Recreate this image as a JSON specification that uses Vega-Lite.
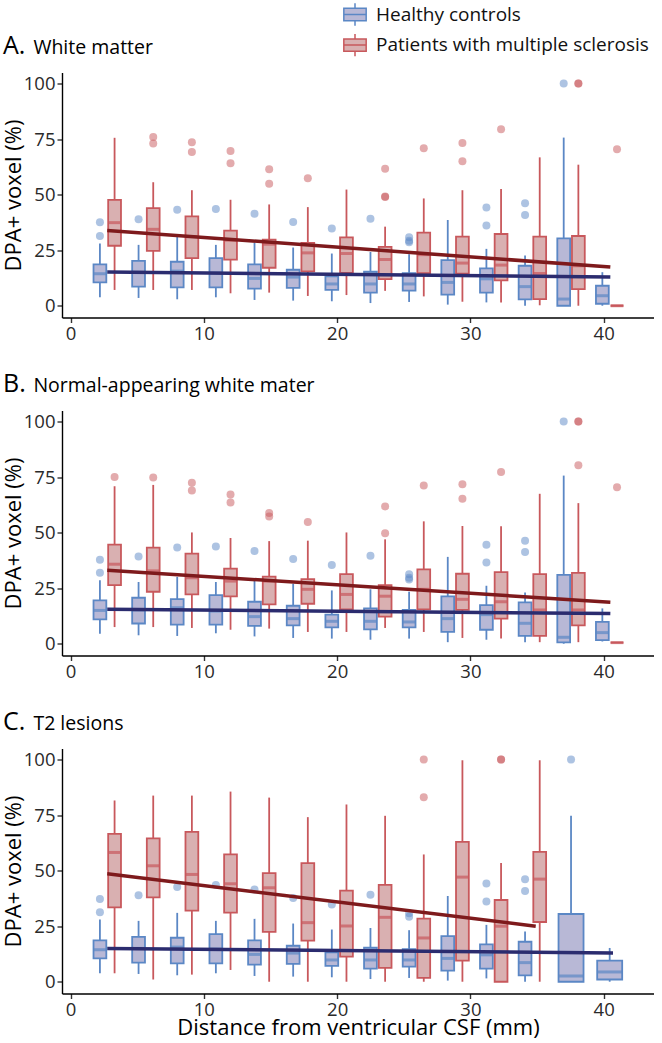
{
  "$schema": "https://vega.github.io/schema/vega-lite/v6.json",
  "padding": {"left": 2, "top": 2.5, "right": 0, "bottom": 6},
  "background": "white",
  "spacing": 93,
  "bounds": "flush",
  "config": {
    "font": "Open Sans",
    "view": {"stroke": null},
    "axis": {
      "grid": false,
      "domainColor": "#000",
      "domainWidth": 1.4,
      "tickColor": "#333",
      "tickWidth": 1.4,
      "tickSize": 5,
      "labelFont": "Open Sans",
      "labelFontSize": 18.5,
      "labelColor": "#2a2a2a",
      "labelPadding": 2,
      "titleFont": "Open Sans",
      "titleFontSize": 22,
      "titleFontWeight": "normal",
      "titleColor": "#000"
    },
    "axisX": {"titlePadding": -2},
    "axisY": {"titlePadding": -2},
    "title": {
      "anchor": "start",
      "frame": "group",
      "dx": -59,
      "offset": 14,
      "font": "Open Sans",
      "fontSize": 25,
      "fontWeight": "normal",
      "color": "#000",
      "subtitleFont": "Open Sans",
      "subtitleFontSize": 19.5,
      "subtitleColor": "#000",
      "subtitlePadding": -20
    }
  },
  "datasets": {
    "boxes": [
      {"panel":"A","group":"Healthy controls","bin":1,"dist":2.2,"lo":3.8,"q1":10.5,"med":14.4,"q3":18.6,"hi":28.0},
      {"panel":"A","group":"Healthy controls","bin":2,"dist":5.1,"lo":3.5,"q1":8.6,"med":15.0,"q3":20.2,"hi":27.4},
      {"panel":"A","group":"Healthy controls","bin":3,"dist":8.0,"lo":2.9,"q1":8.3,"med":15.6,"q3":19.8,"hi":31.0},
      {"panel":"A","group":"Healthy controls","bin":4,"dist":10.9,"lo":3.8,"q1":8.3,"med":14.7,"q3":21.4,"hi":27.4},
      {"panel":"A","group":"Healthy controls","bin":5,"dist":13.8,"lo":2.6,"q1":7.7,"med":12.3,"q3":18.6,"hi":28.3},
      {"panel":"A","group":"Healthy controls","bin":6,"dist":16.7,"lo":2.3,"q1":8.0,"med":12.9,"q3":16.2,"hi":26.2},
      {"panel":"A","group":"Healthy controls","bin":7,"dist":19.6,"lo":2.0,"q1":7.1,"med":9.8,"q3":13.2,"hi":23.5},
      {"panel":"A","group":"Healthy controls","bin":8,"dist":22.5,"lo":1.2,"q1":5.9,"med":9.8,"q3":15.3,"hi":24.2},
      {"panel":"A","group":"Healthy controls","bin":9,"dist":25.4,"lo":1.7,"q1":6.8,"med":9.8,"q3":14.7,"hi":23.2},
      {"panel":"A","group":"Healthy controls","bin":10,"dist":28.3,"lo":0.5,"q1":5.0,"med":10.5,"q3":20.5,"hi":38.6},
      {"panel":"A","group":"Healthy controls","bin":11,"dist":31.2,"lo":1.5,"q1":5.9,"med":12.1,"q3":16.8,"hi":25.6},
      {"panel":"A","group":"Healthy controls","bin":12,"dist":34.1,"lo":0.0,"q1":2.9,"med":8.6,"q3":18.0,"hi":22.6},
      {"panel":"A","group":"Healthy controls","bin":13,"dist":37.0,"lo":0.0,"q1":0.0,"med":3.0,"q3":30.3,"hi":75.7},
      {"panel":"A","group":"Healthy controls","bin":14,"dist":39.9,"lo":0.0,"q1":0.9,"med":4.5,"q3":9.0,"hi":15.1},
      {"panel":"A","group":"Patients with multiple sclerosis","bin":1,"dist":3.3,"lo":7.1,"q1":27.0,"med":37.4,"q3":47.7,"hi":75.6},
      {"panel":"A","group":"Patients with multiple sclerosis","bin":2,"dist":6.2,"lo":7.1,"q1":24.7,"med":34.4,"q3":43.9,"hi":55.6},
      {"panel":"A","group":"Patients with multiple sclerosis","bin":3,"dist":9.1,"lo":7.1,"q1":21.4,"med":31.1,"q3":40.2,"hi":52.0},
      {"panel":"A","group":"Patients with multiple sclerosis","bin":4,"dist":12.0,"lo":5.6,"q1":20.8,"med":29.5,"q3":33.8,"hi":47.7},
      {"panel":"A","group":"Patients with multiple sclerosis","bin":5,"dist":14.9,"lo":5.9,"q1":17.1,"med":27.7,"q3":29.8,"hi":45.6},
      {"panel":"A","group":"Patients with multiple sclerosis","bin":6,"dist":17.8,"lo":4.4,"q1":15.5,"med":23.8,"q3":28.3,"hi":44.4},
      {"panel":"A","group":"Patients with multiple sclerosis","bin":7,"dist":20.7,"lo":4.8,"q1":14.8,"med":23.5,"q3":30.8,"hi":52.3},
      {"panel":"A","group":"Patients with multiple sclerosis","bin":8,"dist":23.6,"lo":6.7,"q1":12.0,"med":20.8,"q3":26.5,"hi":35.6},
      {"panel":"A","group":"Patients with multiple sclerosis","bin":9,"dist":26.5,"lo":4.2,"q1":14.7,"med":23.0,"q3":32.9,"hi":48.3},
      {"panel":"A","group":"Patients with multiple sclerosis","bin":10,"dist":29.4,"lo":1.8,"q1":14.4,"med":19.2,"q3":31.1,"hi":52.0},
      {"panel":"A","group":"Patients with multiple sclerosis","bin":11,"dist":32.3,"lo":1.4,"q1":11.4,"med":18.3,"q3":32.3,"hi":52.6},
      {"panel":"A","group":"Patients with multiple sclerosis","bin":12,"dist":35.2,"lo":0.2,"q1":3.0,"med":14.5,"q3":31.1,"hi":66.8},
      {"panel":"A","group":"Patients with multiple sclerosis","bin":13,"dist":38.1,"lo":0.0,"q1":7.5,"med":18.0,"q3":31.4,"hi":63.5},
      {"panel":"A","group":"Patients with multiple sclerosis","bin":14,"dist":41.0,"lo":0.0,"q1":0.0,"med":0.0,"q3":0.0,"hi":0.0},

      {"panel":"B","group":"Healthy controls","bin":1,"dist":2.2,"lo":4.5,"q1":11.0,"med":15.0,"q3":19.5,"hi":28.6},
      {"panel":"B","group":"Healthy controls","bin":2,"dist":5.1,"lo":3.8,"q1":9.1,"med":15.2,"q3":20.7,"hi":27.8},
      {"panel":"B","group":"Healthy controls","bin":3,"dist":8.0,"lo":3.5,"q1":8.6,"med":16.2,"q3":20.1,"hi":30.1},
      {"panel":"B","group":"Healthy controls","bin":4,"dist":10.9,"lo":4.7,"q1":8.6,"med":14.7,"q3":21.9,"hi":27.8},
      {"panel":"B","group":"Healthy controls","bin":5,"dist":13.8,"lo":3.3,"q1":8.0,"med":12.2,"q3":18.9,"hi":29.0},
      {"panel":"B","group":"Healthy controls","bin":6,"dist":16.7,"lo":2.6,"q1":8.3,"med":11.3,"q3":17.1,"hi":27.0},
      {"panel":"B","group":"Healthy controls","bin":7,"dist":19.6,"lo":2.3,"q1":7.4,"med":10.1,"q3":13.1,"hi":24.0},
      {"panel":"B","group":"Healthy controls","bin":8,"dist":22.5,"lo":1.8,"q1":6.5,"med":10.1,"q3":15.9,"hi":24.5},
      {"panel":"B","group":"Healthy controls","bin":9,"dist":25.4,"lo":2.3,"q1":7.4,"med":9.8,"q3":15.2,"hi":23.4},
      {"panel":"B","group":"Healthy controls","bin":10,"dist":28.3,"lo":0.7,"q1":5.3,"med":11.3,"q3":21.3,"hi":39.1},
      {"panel":"B","group":"Healthy controls","bin":11,"dist":31.2,"lo":1.8,"q1":6.3,"med":13.1,"q3":17.4,"hi":26.1},
      {"panel":"B","group":"Healthy controls","bin":12,"dist":34.1,"lo":0.7,"q1":3.5,"med":9.2,"q3":18.6,"hi":23.1},
      {"panel":"B","group":"Healthy controls","bin":13,"dist":37.0,"lo":0.0,"q1":0.6,"med":2.9,"q3":31.0,"hi":75.7},
      {"panel":"B","group":"Healthy controls","bin":14,"dist":39.9,"lo":1.0,"q1":1.6,"med":5.0,"q3":9.8,"hi":15.9},
      {"panel":"B","group":"Patients with multiple sclerosis","bin":1,"dist":3.3,"lo":7.5,"q1":26.4,"med":35.8,"q3":44.6,"hi":70.9},
      {"panel":"B","group":"Patients with multiple sclerosis","bin":2,"dist":6.2,"lo":7.5,"q1":23.4,"med":32.8,"q3":43.3,"hi":71.5},
      {"panel":"B","group":"Patients with multiple sclerosis","bin":3,"dist":9.1,"lo":7.1,"q1":22.2,"med":29.7,"q3":40.6,"hi":50.1},
      {"panel":"B","group":"Patients with multiple sclerosis","bin":4,"dist":12.0,"lo":6.3,"q1":21.3,"med":28.2,"q3":33.8,"hi":47.6},
      {"panel":"B","group":"Patients with multiple sclerosis","bin":5,"dist":14.9,"lo":6.8,"q1":17.7,"med":28.2,"q3":30.2,"hi":46.2},
      {"panel":"B","group":"Patients with multiple sclerosis","bin":6,"dist":17.8,"lo":5.3,"q1":18.0,"med":24.5,"q3":29.1,"hi":46.4},
      {"panel":"B","group":"Patients with multiple sclerosis","bin":7,"dist":20.7,"lo":5.3,"q1":15.5,"med":22.2,"q3":31.3,"hi":50.1},
      {"panel":"B","group":"Patients with multiple sclerosis","bin":8,"dist":23.6,"lo":7.1,"q1":12.2,"med":21.4,"q3":26.4,"hi":47.0},
      {"panel":"B","group":"Patients with multiple sclerosis","bin":9,"dist":26.5,"lo":5.3,"q1":15.5,"med":24.5,"q3":33.5,"hi":55.1},
      {"panel":"B","group":"Patients with multiple sclerosis","bin":10,"dist":29.4,"lo":2.6,"q1":15.2,"med":20.0,"q3":31.5,"hi":53.0},
      {"panel":"B","group":"Patients with multiple sclerosis","bin":11,"dist":32.3,"lo":2.3,"q1":11.3,"med":18.9,"q3":32.2,"hi":52.9},
      {"panel":"B","group":"Patients with multiple sclerosis","bin":12,"dist":35.2,"lo":0.7,"q1":3.5,"med":15.2,"q3":31.3,"hi":67.5},
      {"panel":"B","group":"Patients with multiple sclerosis","bin":13,"dist":38.1,"lo":0.7,"q1":8.3,"med":15.2,"q3":31.9,"hi":63.3},
      {"panel":"B","group":"Patients with multiple sclerosis","bin":14,"dist":41.0,"lo":0.5,"q1":0.5,"med":0.5,"q3":0.5,"hi":0.5},

      {"panel":"C","group":"Healthy controls","bin":1,"dist":2.2,"lo":3.8,"q1":10.5,"med":14.4,"q3":18.6,"hi":28.0},
      {"panel":"C","group":"Healthy controls","bin":2,"dist":5.1,"lo":3.5,"q1":8.6,"med":15.0,"q3":20.2,"hi":27.4},
      {"panel":"C","group":"Healthy controls","bin":3,"dist":8.0,"lo":2.9,"q1":8.3,"med":15.6,"q3":19.8,"hi":31.0},
      {"panel":"C","group":"Healthy controls","bin":4,"dist":10.9,"lo":3.8,"q1":8.3,"med":14.7,"q3":21.4,"hi":27.4},
      {"panel":"C","group":"Healthy controls","bin":5,"dist":13.8,"lo":2.6,"q1":7.7,"med":12.3,"q3":18.6,"hi":28.3},
      {"panel":"C","group":"Healthy controls","bin":6,"dist":16.7,"lo":2.3,"q1":8.0,"med":12.9,"q3":16.2,"hi":26.2},
      {"panel":"C","group":"Healthy controls","bin":7,"dist":19.6,"lo":2.0,"q1":7.1,"med":9.8,"q3":13.2,"hi":23.5},
      {"panel":"C","group":"Healthy controls","bin":8,"dist":22.5,"lo":1.2,"q1":5.9,"med":9.8,"q3":15.3,"hi":24.2},
      {"panel":"C","group":"Healthy controls","bin":9,"dist":25.4,"lo":1.7,"q1":6.8,"med":9.8,"q3":14.7,"hi":23.2},
      {"panel":"C","group":"Healthy controls","bin":10,"dist":28.3,"lo":0.5,"q1":5.0,"med":10.5,"q3":20.5,"hi":38.6},
      {"panel":"C","group":"Healthy controls","bin":11,"dist":31.2,"lo":1.5,"q1":5.9,"med":12.1,"q3":16.8,"hi":25.6},
      {"panel":"C","group":"Healthy controls","bin":12,"dist":34.1,"lo":0.0,"q1":2.9,"med":8.6,"q3":18.0,"hi":22.6},
      {"panel":"C","group":"Healthy controls","bin":13,"dist":37.55,"lo":0.0,"q1":0.0,"med":2.6,"q3":30.5,"hi":74.7},
      {"panel":"C","group":"Healthy controls","bin":14,"dist":40.45,"lo":0.0,"q1":1.0,"med":4.4,"q3":9.5,"hi":15.2},
      {"panel":"C","group":"Patients with multiple sclerosis","bin":1,"dist":3.3,"lo":3.8,"q1":33.5,"med":58.2,"q3":66.6,"hi":81.6},
      {"panel":"C","group":"Patients with multiple sclerosis","bin":2,"dist":6.2,"lo":1.0,"q1":38.0,"med":52.2,"q3":64.5,"hi":83.8},
      {"panel":"C","group":"Patients with multiple sclerosis","bin":3,"dist":9.1,"lo":3.2,"q1":32.0,"med":48.3,"q3":67.5,"hi":83.8},
      {"panel":"C","group":"Patients with multiple sclerosis","bin":4,"dist":12.0,"lo":5.3,"q1":31.1,"med":44.1,"q3":57.3,"hi":85.6},
      {"panel":"C","group":"Patients with multiple sclerosis","bin":5,"dist":14.9,"lo":0.0,"q1":22.4,"med":42.3,"q3":48.9,"hi":82.9},
      {"panel":"C","group":"Patients with multiple sclerosis","bin":6,"dist":17.8,"lo":0.0,"q1":18.5,"med":26.6,"q3":53.4,"hi":74.1},
      {"panel":"C","group":"Patients with multiple sclerosis","bin":7,"dist":20.7,"lo":0.0,"q1":11.3,"med":25.1,"q3":41.0,"hi":79.8},
      {"panel":"C","group":"Patients with multiple sclerosis","bin":8,"dist":23.6,"lo":0.0,"q1":6.2,"med":29.0,"q3":43.6,"hi":74.7},
      {"panel":"C","group":"Patients with multiple sclerosis","bin":9,"dist":26.5,"lo":0.0,"q1":1.7,"med":19.7,"q3":28.4,"hi":57.3},
      {"panel":"C","group":"Patients with multiple sclerosis","bin":10,"dist":29.4,"lo":0.0,"q1":9.5,"med":47.1,"q3":63.0,"hi":99.7},
      {"panel":"C","group":"Patients with multiple sclerosis","bin":11,"dist":32.3,"lo":0.0,"q1":0.0,"med":25.0,"q3":36.8,"hi":53.4},
      {"panel":"C","group":"Patients with multiple sclerosis","bin":12,"dist":35.2,"lo":0.0,"q1":26.9,"med":46.2,"q3":58.5,"hi":99.7}
    ],
    "outliers": [
      {"panel":"A","group":"Healthy controls","dist":2.2,"value":37.6},
      {"panel":"A","group":"Healthy controls","dist":2.2,"value":31.4},
      {"panel":"A","group":"Healthy controls","dist":5.1,"value":38.9},
      {"panel":"A","group":"Healthy controls","dist":8.0,"value":43.2},
      {"panel":"A","group":"Healthy controls","dist":10.9,"value":43.6},
      {"panel":"A","group":"Healthy controls","dist":13.8,"value":41.4},
      {"panel":"A","group":"Healthy controls","dist":16.7,"value":37.7},
      {"panel":"A","group":"Healthy controls","dist":19.6,"value":34.8},
      {"panel":"A","group":"Healthy controls","dist":22.5,"value":39.2},
      {"panel":"A","group":"Healthy controls","dist":25.4,"value":30.8},
      {"panel":"A","group":"Healthy controls","dist":25.4,"value":29.2},
      {"panel":"A","group":"Healthy controls","dist":25.4,"value":28.6},
      {"panel":"A","group":"Healthy controls","dist":31.2,"value":44.2},
      {"panel":"A","group":"Healthy controls","dist":31.2,"value":36.1},
      {"panel":"A","group":"Healthy controls","dist":34.1,"value":46.1},
      {"panel":"A","group":"Healthy controls","dist":34.1,"value":40.9},
      {"panel":"A","group":"Healthy controls","dist":37.0,"value":100},
      {"panel":"A","group":"Patients with multiple sclerosis","dist":6.2,"value":76.0},
      {"panel":"A","group":"Patients with multiple sclerosis","dist":6.2,"value":73.0},
      {"panel":"A","group":"Patients with multiple sclerosis","dist":9.1,"value":73.6},
      {"panel":"A","group":"Patients with multiple sclerosis","dist":9.1,"value":69.2},
      {"panel":"A","group":"Patients with multiple sclerosis","dist":12.0,"value":69.7},
      {"panel":"A","group":"Patients with multiple sclerosis","dist":12.0,"value":64.1},
      {"panel":"A","group":"Patients with multiple sclerosis","dist":14.9,"value":61.4},
      {"panel":"A","group":"Patients with multiple sclerosis","dist":14.9,"value":54.9},
      {"panel":"A","group":"Patients with multiple sclerosis","dist":17.8,"value":57.4},
      {"panel":"A","group":"Patients with multiple sclerosis","dist":23.6,"value":61.7},
      {"panel":"A","group":"Patients with multiple sclerosis","dist":23.6,"value":49.2},
      {"panel":"A","group":"Patients with multiple sclerosis","dist":23.6,"value":49.0},
      {"panel":"A","group":"Patients with multiple sclerosis","dist":26.5,"value":70.9},
      {"panel":"A","group":"Patients with multiple sclerosis","dist":29.4,"value":73.3},
      {"panel":"A","group":"Patients with multiple sclerosis","dist":29.4,"value":65.0},
      {"panel":"A","group":"Patients with multiple sclerosis","dist":32.3,"value":79.5},
      {"panel":"A","group":"Patients with multiple sclerosis","dist":38.1,"value":100},
      {"panel":"A","group":"Patients with multiple sclerosis","dist":38.1,"value":100},
      {"panel":"A","group":"Patients with multiple sclerosis","dist":41.0,"value":70.5},

      {"panel":"B","group":"Healthy controls","dist":2.2,"value":37.8},
      {"panel":"B","group":"Healthy controls","dist":2.2,"value":31.9},
      {"panel":"B","group":"Healthy controls","dist":5.1,"value":39.3},
      {"panel":"B","group":"Healthy controls","dist":8.0,"value":43.3},
      {"panel":"B","group":"Healthy controls","dist":10.9,"value":43.8},
      {"panel":"B","group":"Healthy controls","dist":13.8,"value":41.8},
      {"panel":"B","group":"Healthy controls","dist":16.7,"value":38.2},
      {"panel":"B","group":"Healthy controls","dist":19.6,"value":35.4},
      {"panel":"B","group":"Healthy controls","dist":22.5,"value":39.6},
      {"panel":"B","group":"Healthy controls","dist":25.4,"value":31.3},
      {"panel":"B","group":"Healthy controls","dist":25.4,"value":29.7},
      {"panel":"B","group":"Healthy controls","dist":25.4,"value":28.9},
      {"panel":"B","group":"Healthy controls","dist":31.2,"value":44.6},
      {"panel":"B","group":"Healthy controls","dist":31.2,"value":36.6},
      {"panel":"B","group":"Healthy controls","dist":34.1,"value":46.4},
      {"panel":"B","group":"Healthy controls","dist":34.1,"value":41.3},
      {"panel":"B","group":"Healthy controls","dist":37.0,"value":100},
      {"panel":"B","group":"Patients with multiple sclerosis","dist":3.3,"value":75.1},
      {"panel":"B","group":"Patients with multiple sclerosis","dist":6.2,"value":74.8},
      {"panel":"B","group":"Patients with multiple sclerosis","dist":9.1,"value":72.5},
      {"panel":"B","group":"Patients with multiple sclerosis","dist":9.1,"value":69.0},
      {"panel":"B","group":"Patients with multiple sclerosis","dist":12.0,"value":67.2},
      {"panel":"B","group":"Patients with multiple sclerosis","dist":12.0,"value":63.6},
      {"panel":"B","group":"Patients with multiple sclerosis","dist":14.9,"value":58.8},
      {"panel":"B","group":"Patients with multiple sclerosis","dist":14.9,"value":57.3},
      {"panel":"B","group":"Patients with multiple sclerosis","dist":17.8,"value":54.8},
      {"panel":"B","group":"Patients with multiple sclerosis","dist":23.6,"value":61.8},
      {"panel":"B","group":"Patients with multiple sclerosis","dist":23.6,"value":49.7},
      {"panel":"B","group":"Patients with multiple sclerosis","dist":26.5,"value":71.2},
      {"panel":"B","group":"Patients with multiple sclerosis","dist":29.4,"value":71.8},
      {"panel":"B","group":"Patients with multiple sclerosis","dist":29.4,"value":65.3},
      {"panel":"B","group":"Patients with multiple sclerosis","dist":32.3,"value":77.3},
      {"panel":"B","group":"Patients with multiple sclerosis","dist":38.1,"value":100},
      {"panel":"B","group":"Patients with multiple sclerosis","dist":38.1,"value":100},
      {"panel":"B","group":"Patients with multiple sclerosis","dist":38.1,"value":80.4},
      {"panel":"B","group":"Patients with multiple sclerosis","dist":41.0,"value":70.5},

      {"panel":"C","group":"Healthy controls","dist":2.2,"value":37.3},
      {"panel":"C","group":"Healthy controls","dist":2.2,"value":31.3},
      {"panel":"C","group":"Healthy controls","dist":5.1,"value":38.9},
      {"panel":"C","group":"Healthy controls","dist":8.0,"value":42.6},
      {"panel":"C","group":"Healthy controls","dist":10.9,"value":43.6},
      {"panel":"C","group":"Healthy controls","dist":13.8,"value":41.5},
      {"panel":"C","group":"Healthy controls","dist":16.7,"value":37.7},
      {"panel":"C","group":"Healthy controls","dist":19.6,"value":34.8},
      {"panel":"C","group":"Healthy controls","dist":22.5,"value":39.2},
      {"panel":"C","group":"Healthy controls","dist":25.4,"value":30.8},
      {"panel":"C","group":"Healthy controls","dist":25.4,"value":29.2},
      {"panel":"C","group":"Healthy controls","dist":31.2,"value":44.2},
      {"panel":"C","group":"Healthy controls","dist":31.2,"value":36.1},
      {"panel":"C","group":"Healthy controls","dist":34.1,"value":46.1},
      {"panel":"C","group":"Healthy controls","dist":34.1,"value":40.9},
      {"panel":"C","group":"Healthy controls","dist":37.55,"value":100},
      {"panel":"C","group":"Patients with multiple sclerosis","dist":26.5,"value":100},
      {"panel":"C","group":"Patients with multiple sclerosis","dist":26.5,"value":83.1},
      {"panel":"C","group":"Patients with multiple sclerosis","dist":32.3,"value":100},
      {"panel":"C","group":"Patients with multiple sclerosis","dist":32.3,"value":100}
    ],
    "fits": [
      {"panel":"A","group":"Healthy controls","dist":2.75,"fit":15.2},
      {"panel":"A","group":"Healthy controls","dist":40.5,"fit":12.9},
      {"panel":"A","group":"Patients with multiple sclerosis","dist":2.75,"fit":33.9},
      {"panel":"A","group":"Patients with multiple sclerosis","dist":40.5,"fit":17.4},
      {"panel":"B","group":"Healthy controls","dist":2.75,"fit":15.5},
      {"panel":"B","group":"Healthy controls","dist":40.5,"fit":13.6},
      {"panel":"B","group":"Patients with multiple sclerosis","dist":2.75,"fit":33.1},
      {"panel":"B","group":"Patients with multiple sclerosis","dist":40.5,"fit":18.7},
      {"panel":"C","group":"Healthy controls","dist":2.75,"fit":15.0},
      {"panel":"C","group":"Healthy controls","dist":40.7,"fit":12.9},
      {"panel":"C","group":"Patients with multiple sclerosis","dist":2.75,"fit":48.6},
      {"panel":"C","group":"Patients with multiple sclerosis","dist":34.9,"fit":25.0}
    ]
  },
  "vconcat": [
    {
      "width": 592, "height": 245,
      "title": {"text": "A.", "subtitle": "\u200b\u00a0\u00a0\u00a0\u00a0\u00a0\u00a0White matter"},
      "layer": [
        {"data": {"name": "boxes"}, "transform": [{"filter": "datum.panel == 'A'"}],
         "mark": {"type": "rule", "strokeWidth": 1.8},
         "encoding": {
           "x": {"field": "dist", "type": "quantitative", "scale": {"domain": [-0.27, 43.4], "nice": false, "zero": false}, "axis": {"values": [0, 10, 20, 30, 40], "title": null}},
           "y": {"field": "lo", "type": "quantitative", "scale": {"domain": [-5.3, 105], "nice": false, "zero": false}, "axis": {"values": [0, 25, 50, 75, 100], "title": "DPA+ voxel (%)"}},
           "y2": {"field": "hi"},
           "color": {"condition": {"test": "datum.group == 'Healthy controls'", "value": "#5b87c5"}, "value": "#c8585c"}
         }},
        {"data": {"name": "boxes"}, "transform": [{"filter": "datum.panel == 'A'"}, {"joinaggregate": [{"op": "count", "as": "n"}], "groupby": ["bin"]}],
         "mark": {"type": "bar", "strokeWidth": 1.8},
         "encoding": {
           "x": {"field": "dist", "type": "quantitative", "scale": {"domain": [-0.27, 43.4], "nice": false, "zero": false}, "axis": {"values": [0, 10, 20, 30, 40], "title": null}},
           "y": {"field": "q1", "type": "quantitative", "scale": {"domain": [-5.3, 105], "nice": false, "zero": false}, "axis": {"values": [0, 25, 50, 75, 100], "title": "DPA+ voxel (%)"}},
           "y2": {"field": "q3"},
           "fill": {"field": "group", "type": "nominal", "scale": {"domain": ["Healthy controls", "Patients with multiple sclerosis"], "range": ["#b8b8d6", "#d9b0b1"]},
             "legend": {"title": null, "orient": "none", "legendX": 281, "legendY": -70, "symbolType": "M-1,-0.55H1V0.55H-1Z M-1,0H1 M0,-1V-0.55 M0,0.55V1", "symbolSize": 500, "symbolStrokeWidth": 1.5, "labelFont": "Open Sans", "labelFontSize": 19, "labelColor": "#111", "labelLimit": 0, "rowPadding": 0.6, "labelOffset": 9, "padding": 0}},
           "stroke": {"field": "group", "type": "nominal", "scale": {"domain": ["Healthy controls", "Patients with multiple sclerosis"], "range": ["#5b87c5", "#c8585c"]},
             "legend": {"title": null, "orient": "none", "legendX": 281, "legendY": -70, "symbolType": "M-1,-0.55H1V0.55H-1Z M-1,0H1 M0,-1V-0.55 M0,0.55V1", "symbolSize": 500, "symbolStrokeWidth": 1.5, "labelFont": "Open Sans", "labelFontSize": 19, "labelColor": "#111", "labelLimit": 0, "rowPadding": 0.6, "labelOffset": 9, "padding": 0}},
           "size": {"field": "n", "type": "quantitative", "scale": {"domain": [1, 2], "range": [25, 12.8]}, "legend": null}
         }},
        {"data": {"name": "boxes"}, "transform": [{"filter": "datum.panel == 'A'"}, {"joinaggregate": [{"op": "count", "as": "n"}], "groupby": ["bin"]}],
         "mark": {"type": "tick", "orient": "horizontal", "thickness": 3},
         "encoding": {
           "x": {"field": "dist", "type": "quantitative", "scale": {"domain": [-0.27, 43.4], "nice": false, "zero": false}, "axis": {"values": [0, 10, 20, 30, 40], "title": null}},
           "y": {"field": "med", "type": "quantitative", "scale": {"domain": [-5.3, 105], "nice": false, "zero": false}, "axis": {"values": [0, 25, 50, 75, 100], "title": "DPA+ voxel (%)"}},
           "color": {"condition": {"test": "datum.group == 'Healthy controls'", "value": "#5b87c5"}, "value": "#c8585c"},
           "size": {"field": "n", "type": "quantitative", "scale": {"domain": [1, 2], "range": [25, 12.8]}, "legend": null}
         }},
        {"data": {"name": "outliers"}, "transform": [{"filter": "datum.panel == 'A'"}],
         "mark": {"type": "point", "filled": true, "size": 64, "opacity": 0.5},
         "encoding": {
           "x": {"field": "dist", "type": "quantitative", "scale": {"domain": [-0.27, 43.4], "nice": false, "zero": false}, "axis": {"values": [0, 10, 20, 30, 40], "title": null}},
           "y": {"field": "value", "type": "quantitative", "scale": {"domain": [-5.3, 105], "nice": false, "zero": false}, "axis": {"values": [0, 25, 50, 75, 100], "title": "DPA+ voxel (%)"}},
           "color": {"condition": {"test": "datum.group == 'Healthy controls'", "value": "#5b87c5"}, "value": "#c8585c"}
         }},
        {"data": {"name": "fits"}, "transform": [{"filter": "datum.panel == 'A' && datum.group == 'Healthy controls'"}],
         "mark": {"type": "line", "strokeWidth": 3.5, "color": "#2b2c6f"},
         "encoding": {
           "x": {"field": "dist", "type": "quantitative", "scale": {"domain": [-0.27, 43.4], "nice": false, "zero": false}, "axis": {"values": [0, 10, 20, 30, 40], "title": null}},
           "y": {"field": "fit", "type": "quantitative", "scale": {"domain": [-5.3, 105], "nice": false, "zero": false}, "axis": {"values": [0, 25, 50, 75, 100], "title": "DPA+ voxel (%)"}}
         }},
        {"data": {"name": "fits"}, "transform": [{"filter": "datum.panel == 'A' && datum.group == 'Patients with multiple sclerosis'"}],
         "mark": {"type": "line", "strokeWidth": 3.5, "color": "#7e1a1c"},
         "encoding": {
           "x": {"field": "dist", "type": "quantitative", "scale": {"domain": [-0.27, 43.4], "nice": false, "zero": false}, "axis": {"values": [0, 10, 20, 30, 40], "title": null}},
           "y": {"field": "fit", "type": "quantitative", "scale": {"domain": [-5.3, 105], "nice": false, "zero": false}, "axis": {"values": [0, 25, 50, 75, 100], "title": "DPA+ voxel (%)"}}
         }}
      ]
    },
    {
      "width": 592, "height": 245,
      "title": {"text": "B.", "subtitle": "\u200b\u00a0\u00a0\u00a0\u00a0\u00a0\u00a0Normal-appearing white mater"},
      "layer": [
        {"data": {"name": "boxes"}, "transform": [{"filter": "datum.panel == 'B'"}],
         "mark": {"type": "rule", "strokeWidth": 1.8},
         "encoding": {
           "x": {"field": "dist", "type": "quantitative", "scale": {"domain": [-0.27, 43.4], "nice": false, "zero": false}, "axis": {"values": [0, 10, 20, 30, 40], "title": null}},
           "y": {"field": "lo", "type": "quantitative", "scale": {"domain": [-5.3, 105], "nice": false, "zero": false}, "axis": {"values": [0, 25, 50, 75, 100], "title": "DPA+ voxel (%)"}},
           "y2": {"field": "hi"},
           "color": {"condition": {"test": "datum.group == 'Healthy controls'", "value": "#5b87c5"}, "value": "#c8585c"}
         }},
        {"data": {"name": "boxes"}, "transform": [{"filter": "datum.panel == 'B'"}, {"joinaggregate": [{"op": "count", "as": "n"}], "groupby": ["bin"]}],
         "mark": {"type": "bar", "strokeWidth": 1.8},
         "encoding": {
           "x": {"field": "dist", "type": "quantitative", "scale": {"domain": [-0.27, 43.4], "nice": false, "zero": false}, "axis": {"values": [0, 10, 20, 30, 40], "title": null}},
           "y": {"field": "q1", "type": "quantitative", "scale": {"domain": [-5.3, 105], "nice": false, "zero": false}, "axis": {"values": [0, 25, 50, 75, 100], "title": "DPA+ voxel (%)"}},
           "y2": {"field": "q3"},
           "fill": {"field": "group", "type": "nominal", "scale": {"domain": ["Healthy controls", "Patients with multiple sclerosis"], "range": ["#b8b8d6", "#d9b0b1"]},
             "legend": {"title": null, "orient": "none", "legendX": 281, "legendY": -70, "symbolType": "M-1,-0.55H1V0.55H-1Z M-1,0H1 M0,-1V-0.55 M0,0.55V1", "symbolSize": 500, "symbolStrokeWidth": 1.5, "labelFont": "Open Sans", "labelFontSize": 19, "labelColor": "#111", "labelLimit": 0, "rowPadding": 0.6, "labelOffset": 9, "padding": 0}},
           "stroke": {"field": "group", "type": "nominal", "scale": {"domain": ["Healthy controls", "Patients with multiple sclerosis"], "range": ["#5b87c5", "#c8585c"]},
             "legend": {"title": null, "orient": "none", "legendX": 281, "legendY": -70, "symbolType": "M-1,-0.55H1V0.55H-1Z M-1,0H1 M0,-1V-0.55 M0,0.55V1", "symbolSize": 500, "symbolStrokeWidth": 1.5, "labelFont": "Open Sans", "labelFontSize": 19, "labelColor": "#111", "labelLimit": 0, "rowPadding": 0.6, "labelOffset": 9, "padding": 0}},
           "size": {"field": "n", "type": "quantitative", "scale": {"domain": [1, 2], "range": [25, 12.8]}, "legend": null}
         }},
        {"data": {"name": "boxes"}, "transform": [{"filter": "datum.panel == 'B'"}, {"joinaggregate": [{"op": "count", "as": "n"}], "groupby": ["bin"]}],
         "mark": {"type": "tick", "orient": "horizontal", "thickness": 3},
         "encoding": {
           "x": {"field": "dist", "type": "quantitative", "scale": {"domain": [-0.27, 43.4], "nice": false, "zero": false}, "axis": {"values": [0, 10, 20, 30, 40], "title": null}},
           "y": {"field": "med", "type": "quantitative", "scale": {"domain": [-5.3, 105], "nice": false, "zero": false}, "axis": {"values": [0, 25, 50, 75, 100], "title": "DPA+ voxel (%)"}},
           "color": {"condition": {"test": "datum.group == 'Healthy controls'", "value": "#5b87c5"}, "value": "#c8585c"},
           "size": {"field": "n", "type": "quantitative", "scale": {"domain": [1, 2], "range": [25, 12.8]}, "legend": null}
         }},
        {"data": {"name": "outliers"}, "transform": [{"filter": "datum.panel == 'B'"}],
         "mark": {"type": "point", "filled": true, "size": 64, "opacity": 0.5},
         "encoding": {
           "x": {"field": "dist", "type": "quantitative", "scale": {"domain": [-0.27, 43.4], "nice": false, "zero": false}, "axis": {"values": [0, 10, 20, 30, 40], "title": null}},
           "y": {"field": "value", "type": "quantitative", "scale": {"domain": [-5.3, 105], "nice": false, "zero": false}, "axis": {"values": [0, 25, 50, 75, 100], "title": "DPA+ voxel (%)"}},
           "color": {"condition": {"test": "datum.group == 'Healthy controls'", "value": "#5b87c5"}, "value": "#c8585c"}
         }},
        {"data": {"name": "fits"}, "transform": [{"filter": "datum.panel == 'B' && datum.group == 'Healthy controls'"}],
         "mark": {"type": "line", "strokeWidth": 3.5, "color": "#2b2c6f"},
         "encoding": {
           "x": {"field": "dist", "type": "quantitative", "scale": {"domain": [-0.27, 43.4], "nice": false, "zero": false}, "axis": {"values": [0, 10, 20, 30, 40], "title": null}},
           "y": {"field": "fit", "type": "quantitative", "scale": {"domain": [-5.3, 105], "nice": false, "zero": false}, "axis": {"values": [0, 25, 50, 75, 100], "title": "DPA+ voxel (%)"}}
         }},
        {"data": {"name": "fits"}, "transform": [{"filter": "datum.panel == 'B' && datum.group == 'Patients with multiple sclerosis'"}],
         "mark": {"type": "line", "strokeWidth": 3.5, "color": "#7e1a1c"},
         "encoding": {
           "x": {"field": "dist", "type": "quantitative", "scale": {"domain": [-0.27, 43.4], "nice": false, "zero": false}, "axis": {"values": [0, 10, 20, 30, 40], "title": null}},
           "y": {"field": "fit", "type": "quantitative", "scale": {"domain": [-5.3, 105], "nice": false, "zero": false}, "axis": {"values": [0, 25, 50, 75, 100], "title": "DPA+ voxel (%)"}}
         }}
      ]
    },
    {
      "width": 592, "height": 245,
      "title": {"text": "C.", "subtitle": "\u200b\u00a0\u00a0\u00a0\u00a0\u00a0\u00a0T2 lesions"},
      "layer": [
        {"data": {"name": "boxes"}, "transform": [{"filter": "datum.panel == 'C'"}],
         "mark": {"type": "rule", "strokeWidth": 1.8},
         "encoding": {
           "x": {"field": "dist", "type": "quantitative", "scale": {"domain": [-0.27, 43.4], "nice": false, "zero": false}, "axis": {"values": [0, 10, 20, 30, 40], "title": "Distance from ventricular CSF (mm)"}},
           "y": {"field": "lo", "type": "quantitative", "scale": {"domain": [-5.3, 105], "nice": false, "zero": false}, "axis": {"values": [0, 25, 50, 75, 100], "title": "DPA+ voxel (%)"}},
           "y2": {"field": "hi"},
           "color": {"condition": {"test": "datum.group == 'Healthy controls'", "value": "#5b87c5"}, "value": "#c8585c"}
         }},
        {"data": {"name": "boxes"}, "transform": [{"filter": "datum.panel == 'C'"}, {"joinaggregate": [{"op": "count", "as": "n"}], "groupby": ["bin"]}],
         "mark": {"type": "bar", "strokeWidth": 1.8},
         "encoding": {
           "x": {"field": "dist", "type": "quantitative", "scale": {"domain": [-0.27, 43.4], "nice": false, "zero": false}, "axis": {"values": [0, 10, 20, 30, 40], "title": "Distance from ventricular CSF (mm)"}},
           "y": {"field": "q1", "type": "quantitative", "scale": {"domain": [-5.3, 105], "nice": false, "zero": false}, "axis": {"values": [0, 25, 50, 75, 100], "title": "DPA+ voxel (%)"}},
           "y2": {"field": "q3"},
           "fill": {"field": "group", "type": "nominal", "scale": {"domain": ["Healthy controls", "Patients with multiple sclerosis"], "range": ["#b8b8d6", "#d9b0b1"]},
             "legend": {"title": null, "orient": "none", "legendX": 281, "legendY": -70, "symbolType": "M-1,-0.55H1V0.55H-1Z M-1,0H1 M0,-1V-0.55 M0,0.55V1", "symbolSize": 500, "symbolStrokeWidth": 1.5, "labelFont": "Open Sans", "labelFontSize": 19, "labelColor": "#111", "labelLimit": 0, "rowPadding": 0.6, "labelOffset": 9, "padding": 0}},
           "stroke": {"field": "group", "type": "nominal", "scale": {"domain": ["Healthy controls", "Patients with multiple sclerosis"], "range": ["#5b87c5", "#c8585c"]},
             "legend": {"title": null, "orient": "none", "legendX": 281, "legendY": -70, "symbolType": "M-1,-0.55H1V0.55H-1Z M-1,0H1 M0,-1V-0.55 M0,0.55V1", "symbolSize": 500, "symbolStrokeWidth": 1.5, "labelFont": "Open Sans", "labelFontSize": 19, "labelColor": "#111", "labelLimit": 0, "rowPadding": 0.6, "labelOffset": 9, "padding": 0}},
           "size": {"field": "n", "type": "quantitative", "scale": {"domain": [1, 2], "range": [25, 12.8]}, "legend": null}
         }},
        {"data": {"name": "boxes"}, "transform": [{"filter": "datum.panel == 'C'"}, {"joinaggregate": [{"op": "count", "as": "n"}], "groupby": ["bin"]}],
         "mark": {"type": "tick", "orient": "horizontal", "thickness": 3},
         "encoding": {
           "x": {"field": "dist", "type": "quantitative", "scale": {"domain": [-0.27, 43.4], "nice": false, "zero": false}, "axis": {"values": [0, 10, 20, 30, 40], "title": "Distance from ventricular CSF (mm)"}},
           "y": {"field": "med", "type": "quantitative", "scale": {"domain": [-5.3, 105], "nice": false, "zero": false}, "axis": {"values": [0, 25, 50, 75, 100], "title": "DPA+ voxel (%)"}},
           "color": {"condition": {"test": "datum.group == 'Healthy controls'", "value": "#5b87c5"}, "value": "#c8585c"},
           "size": {"field": "n", "type": "quantitative", "scale": {"domain": [1, 2], "range": [25, 12.8]}, "legend": null}
         }},
        {"data": {"name": "outliers"}, "transform": [{"filter": "datum.panel == 'C'"}],
         "mark": {"type": "point", "filled": true, "size": 64, "opacity": 0.5},
         "encoding": {
           "x": {"field": "dist", "type": "quantitative", "scale": {"domain": [-0.27, 43.4], "nice": false, "zero": false}, "axis": {"values": [0, 10, 20, 30, 40], "title": "Distance from ventricular CSF (mm)"}},
           "y": {"field": "value", "type": "quantitative", "scale": {"domain": [-5.3, 105], "nice": false, "zero": false}, "axis": {"values": [0, 25, 50, 75, 100], "title": "DPA+ voxel (%)"}},
           "color": {"condition": {"test": "datum.group == 'Healthy controls'", "value": "#5b87c5"}, "value": "#c8585c"}
         }},
        {"data": {"name": "fits"}, "transform": [{"filter": "datum.panel == 'C' && datum.group == 'Healthy controls'"}],
         "mark": {"type": "line", "strokeWidth": 3.5, "color": "#2b2c6f"},
         "encoding": {
           "x": {"field": "dist", "type": "quantitative", "scale": {"domain": [-0.27, 43.4], "nice": false, "zero": false}, "axis": {"values": [0, 10, 20, 30, 40], "title": "Distance from ventricular CSF (mm)"}},
           "y": {"field": "fit", "type": "quantitative", "scale": {"domain": [-5.3, 105], "nice": false, "zero": false}, "axis": {"values": [0, 25, 50, 75, 100], "title": "DPA+ voxel (%)"}}
         }},
        {"data": {"name": "fits"}, "transform": [{"filter": "datum.panel == 'C' && datum.group == 'Patients with multiple sclerosis'"}],
         "mark": {"type": "line", "strokeWidth": 3.5, "color": "#7e1a1c"},
         "encoding": {
           "x": {"field": "dist", "type": "quantitative", "scale": {"domain": [-0.27, 43.4], "nice": false, "zero": false}, "axis": {"values": [0, 10, 20, 30, 40], "title": "Distance from ventricular CSF (mm)"}},
           "y": {"field": "fit", "type": "quantitative", "scale": {"domain": [-5.3, 105], "nice": false, "zero": false}, "axis": {"values": [0, 25, 50, 75, 100], "title": "DPA+ voxel (%)"}}
         }}
      ]
    }
  ]
}
